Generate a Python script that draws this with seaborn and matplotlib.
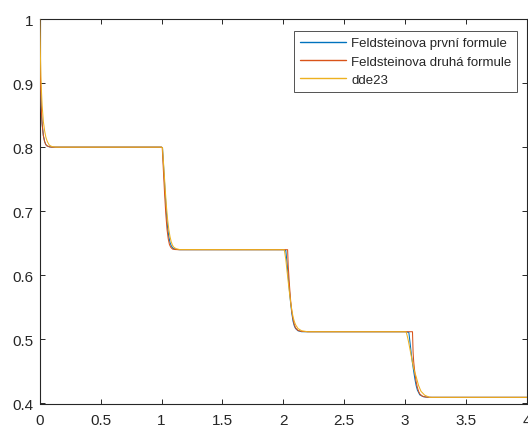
import matplotlib
matplotlib.use("Agg")
import matplotlib.pyplot as plt
import seaborn as sns
import pandas as pd

# Series names (legend labels)
names = ["Feldsteinova první formule", "Feldsteinova druhá formule", "dde23"]
colors = ["#0072BD", "#D95319", "#EDB120"]

# Feldsteinova první formule (blue)
t_first = [0, 0.004, 0.008, 0.012, 0.016, 0.02, 0.03, 0.04, 0.05, 0.06, 0.08, 0.1,
           1.0, 1.008, 1.02, 1.03, 1.04, 1.05, 1.06, 1.07, 1.08, 1.095, 1.12, 1.15,
           2.0, 2.02, 2.03, 2.04, 2.05, 2.06, 2.07, 2.08, 2.09, 2.1, 2.12, 2.15,
           3.0, 3.03, 3.04, 3.05, 3.06, 3.07, 3.08, 3.09, 3.1, 3.12, 3.15, 3.2,
           4.0]
y_first = [1.0, 0.93, 0.89, 0.865, 0.848, 0.836, 0.818, 0.809, 0.804, 0.802, 0.8005, 0.8,
           0.8, 0.799, 0.76, 0.728, 0.698, 0.674, 0.66, 0.651, 0.646, 0.642, 0.6405, 0.64,
           0.64, 0.639, 0.62, 0.598, 0.576, 0.556, 0.54, 0.528, 0.521, 0.517, 0.5135, 0.512,
           0.512, 0.511, 0.495, 0.478, 0.463, 0.45, 0.438, 0.428, 0.421, 0.4135, 0.4105, 0.4096,
           0.4096]

# Feldsteinova druhá formule (red)
t_second = [0, 0.004, 0.008, 0.012, 0.016, 0.02, 0.03, 0.04, 0.05, 0.06, 0.08, 0.1,
            1.0, 1.006, 1.015, 1.025, 1.035, 1.045, 1.055, 1.065, 1.075, 1.09, 1.11, 1.14,
            2.0, 2.035, 2.04, 2.05, 2.06, 2.07, 2.08, 2.09, 2.1, 2.12, 2.15, 2.2,
            3.0, 3.06, 3.065, 3.07, 3.08, 3.09, 3.1, 3.11, 3.12, 3.14, 3.17, 3.22,
            4.0]
y_second = [1.0, 0.93, 0.89, 0.865, 0.848, 0.836, 0.818, 0.809, 0.804, 0.802, 0.8005, 0.8,
            0.8, 0.799, 0.765, 0.728, 0.696, 0.672, 0.657, 0.648, 0.644, 0.641, 0.6403, 0.64,
            0.64, 0.64, 0.615, 0.585, 0.56, 0.543, 0.531, 0.523, 0.518, 0.514, 0.5125, 0.512,
            0.512, 0.512, 0.48, 0.465, 0.447, 0.434, 0.425, 0.419, 0.415, 0.4115, 0.41, 0.4096,
            0.4096]

# dde23 (yellow)
t_dde = [0, 0.005, 0.01, 0.015, 0.02, 0.03, 0.04, 0.05, 0.06, 0.07, 0.08, 0.1, 0.13,
         1.0, 1.008, 1.02, 1.03, 1.04, 1.05, 1.06, 1.07, 1.08, 1.09, 1.1, 1.12, 1.15,
         2.0, 2.008, 2.02, 2.03, 2.04, 2.05, 2.06, 2.07, 2.08, 2.09, 2.1, 2.12, 2.15, 2.2,
         3.0, 3.008, 3.02, 3.03, 3.04, 3.05, 3.06, 3.07, 3.08, 3.09, 3.1, 3.11, 3.13, 3.16, 3.2,
         4.0]
y_dde = [1.0, 0.95, 0.91, 0.885, 0.865, 0.84, 0.826, 0.816, 0.81, 0.806, 0.803, 0.801, 0.8,
         0.8, 0.799, 0.765, 0.735, 0.708, 0.687, 0.671, 0.66, 0.652, 0.647, 0.644, 0.6415, 0.6402,
         0.64, 0.64, 0.625, 0.607, 0.59, 0.573, 0.558, 0.545, 0.535, 0.528, 0.523, 0.517, 0.5135, 0.512,
         0.512, 0.512, 0.503, 0.494, 0.484, 0.474, 0.464, 0.455, 0.448, 0.442, 0.435, 0.428, 0.419, 0.413, 0.4096,
         0.4096]

x_ticks = [0, 0.5, 1, 1.5, 2, 2.5, 3, 3.5, 4]
x_tick_labels = ["0", "0.5", "1", "1.5", "2", "2.5", "3", "3.5", "4"]
y_ticks = [0.4, 0.5, 0.6, 0.7, 0.8, 0.9, 1.0]
y_tick_labels = ["0.4", "0.5", "0.6", "0.7", "0.8", "0.9", "1"]

frames = []
for nm, t, y in zip(names, [t_first, t_second, t_dde], [y_first, y_second, y_dde]):
    frames.append(pd.DataFrame({"t": t, "y": y, "series": nm}))
df = pd.concat(frames, ignore_index=True)

sns.set_theme(style="white")
plt.rcParams["font.family"] = ["Liberation Sans", "DejaVu Sans"]

L, R, T, B = 39.7, 527.0, 20.0, 404.5
fig = plt.figure(figsize=(5.28, 4.27), dpi=100)
ax = fig.add_axes([L / 528, (427 - B) / 427, (R - L) / 528, (B - T) / 427])

sns.lineplot(data=df, x="t", y="y", hue="series", hue_order=names,
             palette=colors, estimator=None, sort=False, linewidth=0.75, ax=ax,
             zorder=3)

ax.set_xlim(0, 4)
ax.set_ylim(0.4, 1.0)
ax.set_xticks(x_ticks)
ax.set_xticklabels(x_tick_labels)
ax.set_yticks(y_ticks)
ax.set_yticklabels(y_tick_labels)
ax.set_xlabel("")
ax.set_ylabel("")

for sp in ax.spines.values():
    sp.set_visible(True)
    sp.set_color("#262626")
    sp.set_linewidth(0.8)

ax.tick_params(axis="both", which="both", direction="in", length=3.5, width=0.7,
               color="#262626", labelcolor="#262626", labelsize=11,
               top=True, right=True, bottom=True, left=True)
ax.tick_params(axis="x", pad=6.5)
ax.tick_params(axis="y", pad=4.6)

bx = (517.3 - L) / (R - L)
by = (B - 32.3) / (B - T)
leg = ax.legend(loc="upper right", bbox_to_anchor=(bx, by),
                frameon=True, fancybox=False, fontsize=9.5, handlelength=3.5,
                handletextpad=0.38, borderpad=0.45, labelspacing=0.45, borderaxespad=0)
leg.get_frame().set_edgecolor("#262626")
leg.get_frame().set_linewidth(0.7)
for line in leg.get_lines():
    line.set_linewidth(1.0)

fig.savefig("out.png", dpi=100)
